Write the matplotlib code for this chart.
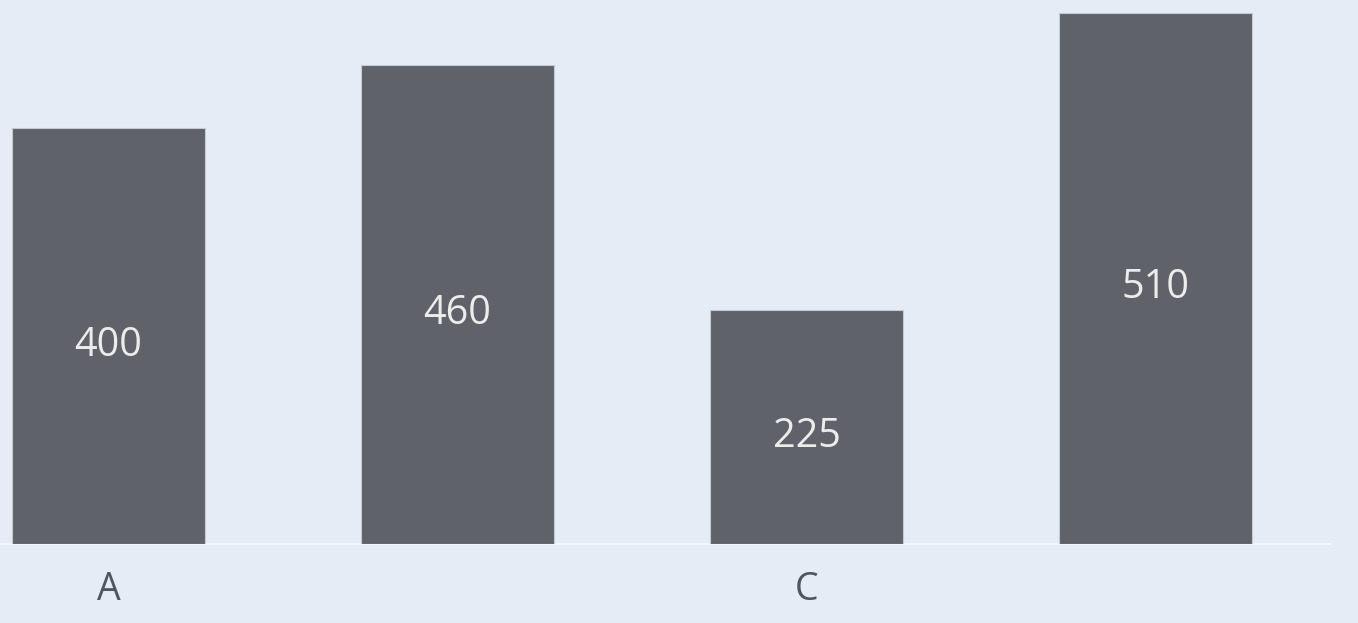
import matplotlib
matplotlib.use("Agg")
import matplotlib.pyplot as plt

categories = ["A", "B", "C", "D"]
values = [400, 460, 225, 510]
tick_labels = ["A", "", "C", ""]

W, H = 1358, 623
fig = plt.figure(figsize=(W / 100, H / 100), dpi=100)
bg = "#e5ecf6"
fig.patch.set_facecolor(bg)
ax = fig.add_axes([0, (H - 543.5) / H, 1330 / W, 543.5 / H])
ax.set_facecolor(bg)

x = list(range(len(categories)))
bars = ax.bar(x, values, width=0.553, color="#5f6369", edgecolor="#c4cad2", linewidth=0.8, zorder=2)
for xi, v in zip(x, values):
    ax.annotate(str(v), xy=(xi, v / 2), xytext=(0, -14.5), textcoords="offset points",
                ha="center", va="baseline", color="#ececec",
                fontsize=28.5, family=["Open Sans", "DejaVu Sans"], zorder=3)

ax.set_xlim(-0.311, 3.5)
ax.set_ylim(0, 522.6)
ax.axhline(0, color="#f4f6fa", linewidth=1.5, zorder=1, clip_on=False)
ax.set_xticks(x)
ax.set_xticklabels(tick_labels, fontsize=27, color="#50565e", family=["Open Sans", "DejaVu Sans"])
ax.tick_params(axis="x", length=0, pad=20)
ax.set_yticks([])
for s in ax.spines.values():
    s.set_visible(False)

fig.savefig("out.png", dpi=100, facecolor=bg)
